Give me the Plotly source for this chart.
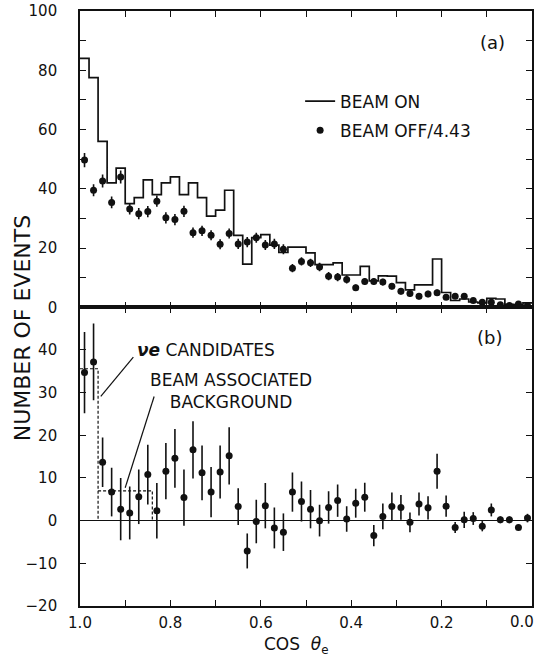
import numpy as np
import plotly.graph_objects as go

# ---------------- data ----------------
bin_width = 0.02
bin_edges = np.round(np.arange(50, -1, -1) * bin_width, 3)          # 1.00 ... 0.00
bin_centers = np.round(bin_edges[:-1] - bin_width / 2, 3)           # 0.99 ... 0.01

beam_on = [84, 77.5, 56, 42, 47, 35, 37, 43, 38, 42,
           44, 38, 42, 37, 30.8, 32.8, 39.5, 24.3, 14.6, 23.5,
           24.5, 21, 18.5, 20.3, 20.3, 18.4, 14.4, 14.4, 15, 10.9,
           10.9, 13.8, 8.9, 10.6, 10.5, 8.3, 5.9, 7.6, 7.6, 16.3,
           5, 2.3, 2.8, 1.8, 1.5, 3, 2.8, 1, 0.8, 1.5]

beam_off = [49.7, 39.5, 42.6, 35.4, 44, 33.2, 31.6, 32.3, 35.8, 30.2,
            29.6, 32.4, 25.2, 25.8, 24.3, 21.3, 24.9, 21.4, 22, 23.5,
            21, 21.4, 19.6, 13.2, 15.5, 15, 13.6, 10.5, 10.2, 9.4,
            6.6, 8.7, 8.7, 8.5, 7.1, 5.4, 4.7, 3.7, 4.5, 4.9,
            3.4, 3.7, 3.7, 2.3, 1.7, 1.7, 0.9, 0.6, 1.1, 0.6]

beam_off_err = [2.4, 2.0, 2.2, 2.0, 2.2, 1.9, 1.9, 1.9, 1.9, 1.9,
                1.9, 1.9, 1.7, 1.7, 1.7, 1.7, 1.7, 1.7, 1.7, 1.7,
                1.7, 1.7, 1.7, 1.4, 1.4, 1.4, 1.4, 1.4, 1.4, 1.4,
                1.1, 1.1, 1.1, 1.1, 1.1, 1.1, 1.1, 1.1, 1.1, 1.1,
                0.8, 0.8, 0.8, 0.7, 0.6, 0.6, 0.5, 0.5, 0.5, 0.5]

excess = [34.7, 37.2, 13.7, 6.7, 2.7, 1.8, 5.6, 10.8, 2.3, 11.6,
          14.6, 5.4, 16.6, 11.2, 6.7, 11.4, 15.2, 3.3, -7.1, -0.2,
          3.5, -1.7, -2.7, 6.7, 4.5, 2.7, 0.0, 3.1, 4.7, 0.4,
          4.1, 5.5, -3.5, 1.0, 3.3, 3.1, -0.4, 3.9, 3.0, 11.6,
          3.4, -1.6, 0.2, 0.5, -1.3, 2.5, 0.2, 0.2, -1.6, 0.6]

excess_err = [9.5, 9.0, 5.8, 5.7, 7.3, 6.2, 6.4, 7.0, 6.5, 6.6,
              6.9, 6.6, 6.7, 6.4, 5.9, 6.2, 6.7, 4.3, 4.1, 5.1,
              5.3, 4.8, 4.4, 4.6, 4.7, 4.5, 3.7, 3.8, 3.8, 3.0,
              3.4, 3.4, 2.5, 3.0, 3.3, 2.9, 2.3, 2.7, 2.7, 4.1,
              2.5, 1.3, 1.9, 1.5, 1.2, 1.5, 0.8, 0.8, 0.6, 1.0]

# dashed outlines in panel (b)
nue_x = [1.0, 0.96, 0.96]
nue_y = [35.6, 35.6, 0]
bkg_x = [0.96, 0.84, 0.84]
bkg_y = [7.0, 7.0, 0]
# leader lines
nue_lead_x = [0.882, 0.954]
nue_lead_y = [38.3, 29.1]
bkg_lead_x = [0.836, 0.900]
bkg_lead_y = [29.1, 7.7]

x_tick_vals = [1.0, 0.8, 0.6, 0.4, 0.2]
x_tick_text = ["1.0", "0.8", "0.6", "0.4", "0.2"]
x_end_label = "0.0"
ya_tick_vals = [0, 20, 40, 60, 80, 100]
yb_tick_vals = [-20, -10, 0, 10, 20, 30, 40]

FONT = "DejaVu Sans"
BLACK = "#111111"

fig = go.Figure()

# ---------- panel (a) ----------
hist_x = list(bin_edges[:-1]) + [bin_edges[-1]]
hist_y = list(beam_on) + [beam_on[-1]]
fig.add_trace(go.Scatter(
    x=hist_x, y=hist_y, mode="lines", line=dict(shape="hv", color=BLACK, width=1.7),
    name="BEAM ON", xaxis="x2", yaxis="y2", legendgroup="on"))
fig.add_trace(go.Scatter(
    x=bin_centers, y=beam_off, mode="markers",
    marker=dict(color=BLACK, size=7),
    error_y=dict(type="data", array=beam_off_err, color=BLACK, thickness=1.6, width=0),
    name="BEAM OFF/4.43", xaxis="x2", yaxis="y2", legendgroup="off"))

# ---------- panel (b) ----------
fig.add_trace(go.Scatter(
    x=bin_centers, y=excess, mode="markers",
    marker=dict(color=BLACK, size=7),
    error_y=dict(type="data", array=excess_err, color=BLACK, thickness=1.6, width=0),
    showlegend=False, xaxis="x", yaxis="y"))
for xs, ys in [(nue_x, nue_y), (bkg_x, bkg_y)]:
    fig.add_trace(go.Scatter(x=xs, y=ys, mode="lines",
                             line=dict(color=BLACK, width=1.2, dash="3px,2px"),
                             showlegend=False, xaxis="x", yaxis="y"))
for xs, ys in [(nue_lead_x, nue_lead_y), (bkg_lead_x, bkg_lead_y)]:
    fig.add_trace(go.Scatter(x=xs, y=ys, mode="lines",
                             line=dict(color=BLACK, width=1.2),
                             showlegend=False, xaxis="x", yaxis="y"))


def axis_style(minor_dtick):
    return dict(showline=True, linecolor=BLACK, linewidth=1.6, mirror="ticks",
                ticks="inside", ticklen=6, tickwidth=1.3, tickcolor=BLACK,
                minor=dict(dtick=minor_dtick, ticks="inside", ticklen=6,
                           tickwidth=1.3, tickcolor=BLACK, showgrid=False),
                showgrid=False, zeroline=False, automargin=False,
                ticklabeloverflow="allow",
                tickfont=dict(family=FONT, size=15, color=BLACK))


fig.update_layout(
    template="none",
    width=537, height=660,
    margin=dict(l=80, r=5, t=11, b=54, autoexpand=False),
    paper_bgcolor="white", plot_bgcolor="white",
    font=dict(family=FONT, color=BLACK),
    xaxis=dict(domain=[0, 1], range=[1.0, 0.0], autorange=False, anchor="y",
               tickvals=x_tick_vals, ticktext=x_tick_text, ticklabelstandoff=2,
               **axis_style(0.1)),
    yaxis=dict(domain=[0, 0.502], range=[-20, 50], autorange=False, anchor="x",
               tickvals=yb_tick_vals, ticklabelstandoff=18,
               **{**axis_style(10), "zeroline": True}, zerolinecolor=BLACK, zerolinewidth=1.2),
    xaxis2=dict(domain=[0, 1], range=[1.0, 0.0], autorange=False, anchor="y2",
                tickvals=x_tick_vals, showticklabels=False, **axis_style(0.1)),
    yaxis2=dict(domain=[0.502, 1], range=[0, 100], autorange=False, anchor="x2",
                tickvals=ya_tick_vals, ticklabelstandoff=18,
                **axis_style(10)),
    legend=dict(x=0.487, y=0.878, xanchor="left", yanchor="top",
                bgcolor="rgba(0,0,0,0)", traceorder="grouped", tracegroupgap=4,
                font=dict(family=FONT, size=17, color=BLACK)),
    showlegend=True,
)

# end label of the cos axis, kept inside the page
fig.add_annotation(text=x_end_label, x=0.0, y=-0.027, xref="x", yref="paper",
                   xanchor="right", yanchor="middle", xshift=4, showarrow=False,
                   font=dict(family=FONT, size=15, color=BLACK))
fig.add_annotation(text="(a)", x=0.088, y=89.5, xref="x2", yref="y2",
                   showarrow=False, font=dict(family=FONT, size=18, color=BLACK))
fig.add_annotation(text="(b)", x=0.095, y=43, xref="x", yref="y",
                   showarrow=False, font=dict(family=FONT, size=18, color=BLACK))
fig.add_annotation(text="<b><i>νe</i></b> CANDIDATES", x=0.878, y=40, xref="x", yref="y",
                   xanchor="left", showarrow=False, font=dict(family=FONT, size=17, color=BLACK))
fig.add_annotation(text="BEAM ASSOCIATED<br>BACKGROUND", x=0.665, y=30.5, xref="x", yref="y",
                   xanchor="center", align="center", showarrow=False,
                   font=dict(family=FONT, size=17, color=BLACK))
fig.add_annotation(text="NUMBER OF EVENTS", x=-0.128, y=0.467, xref="paper", yref="paper",
                   textangle=-90, showarrow=False, xanchor="center", yanchor="middle",
                   font=dict(family=FONT, size=22, color=BLACK))
fig.add_annotation(text="COS  <i>θ</i><sub>e</sub>", x=0.478, y=-0.066, xref="paper", yref="paper",
                   showarrow=False, xanchor="center", yanchor="middle",
                   font=dict(family=FONT, size=17, color=BLACK))

fig.write_html("out.html", config={"displayModeBar": False},
               post_script="document.body.style.margin='0';")
